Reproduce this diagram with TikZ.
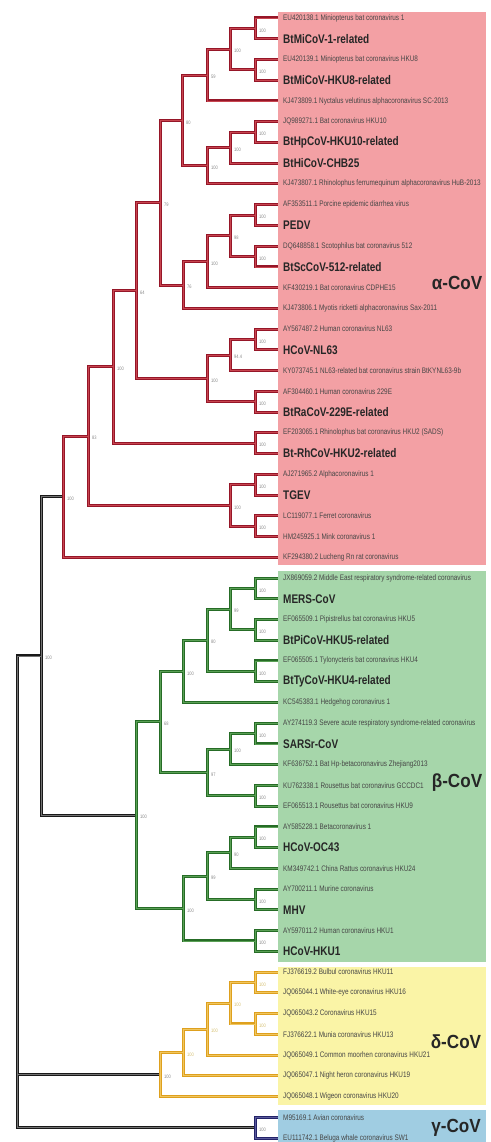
\documentclass[tikz,border=0pt]{standalone}
\usepackage{fontspec}
\usepackage{xcolor}
\usepackage{tikz}
\usetikzlibrary{positioning}
\newfontfamily\treefont{Liberation Sans}[FakeStretch=0.8]
\newfontfamily\cladefont{Liberation Sans}[FakeStretch=0.9]
\definecolor{alphaline}{RGB}{150,22,40}
\definecolor{alphainner}{RGB}{200,70,80}
\definecolor{alphafill}{RGB}{243,160,164}
\definecolor{betaline}{RGB}{38,108,38}
\definecolor{betainner}{RGB}{90,160,85}
\definecolor{betafill}{RGB}{166,214,170}
\definecolor{deltaline}{RGB}{222,160,30}
\definecolor{deltainner}{RGB}{240,198,95}
\definecolor{deltafill}{RGB}{250,244,166}
\definecolor{gammaline}{RGB}{35,35,105}
\definecolor{gammainner}{RGB}{90,90,155}
\definecolor{gammafill}{RGB}{160,205,226}
\definecolor{leafgray}{RGB}{70,70,70}
\definecolor{bootgray}{RGB}{135,135,135}
\definecolor{boottan}{RGB}{212,190,110}

\begin{document}
\begin{tikzpicture}[
    x=1pt, y=-1pt,
    leaf/.style={anchor=west, inner xsep=5pt, inner ysep=0.5pt, text=leafgray, font=\treefont\fontsize{8}{9}\selectfont},
    strain/.style={leaf, text=black!85, font=\treefont\bfseries\fontsize{12.5}{14}\selectfont},
    boot/.style={anchor=west, inner sep=0pt, xshift=4pt, yshift=-2pt, text=bootgray, font=\treefont\fontsize{5}{5}\selectfont},
    dboot/.style={boot, text=boottan},
    clade/.style={text=black!85, font=\cladefont\bfseries\fontsize{19}{21}\selectfont},
    alphaedge/.style={draw=alphaline, double=alphainner, double distance=0.8pt, line width=1.1pt},
    betaedge/.style={draw=betaline, double=betainner, double distance=0.8pt, line width=1.1pt},
    deltaedge/.style={draw=deltaline, double=deltainner, double distance=0.8pt, line width=1.1pt},
    gammaedge/.style={draw=gammaline, double=gammainner, double distance=0.8pt, line width=1.1pt},
    rootedge/.style={draw=black!90, double=black!55, double distance=0.8pt, line width=1.1pt}
]
    \useasboundingbox (0,0) rectangle (490,1142);

    % Clade boxes
    \fill[alphafill] (278,12.5) rectangle (486,564.5);
    \fill[betafill] (278,571) rectangle (486,962);
    \fill[deltafill] (278,966.5) rectangle (486,1105);
    \fill[gammafill] (278,1110) rectangle (486,1142);

    % Alpha leaves
    \node[leaf] (EU420138) at (278,18.0) {EU420138.1 Miniopterus bat coronavirus 1};
    \node[strain] (BtMiCoV1) at (278,38.7) {BtMiCoV-1-related};
    \node[leaf] (EU420139) at (278,59.5) {EU420139.1 Miniopterus bat coronavirus HKU8};
    \node[strain] (BtMiCoVHKU8) at (278,80.2) {BtMiCoV-HKU8-related};
    \node[leaf] (KJ473809) at (278,101.0) {KJ473809.1 Nyctalus velutinus alphacoronavirus SC-2013};
    \node[leaf] (JQ989271) at (278,121.7) {JQ989271.1 Bat coronavirus HKU10};
    \node[strain] (BtHpCoV) at (278,142.4) {BtHpCoV-HKU10-related};
    \node[strain] (BtHiCoV) at (278,163.2) {BtHiCoV-CHB25};
    \node[leaf] (KJ473807) at (278,183.9) {KJ473807.1 Rhinolophus ferrumequinum alphacoronavirus HuB-2013};
    \node[leaf] (AF353511) at (278,204.7) {AF353511.1 Porcine epidemic diarrhea virus};
    \node[strain] (PEDV) at (278,225.4) {PEDV};
    \node[leaf] (DQ648858) at (278,246.1) {DQ648858.1 Scotophilus bat coronavirus 512};
    \node[strain] (BtScCoV) at (278,266.9) {BtScCoV-512-related};
    \node[leaf] (KF430219) at (278,287.6) {KF430219.1 Bat coronavirus CDPHE15};
    \node[leaf] (KJ473806) at (278,308.4) {KJ473806.1 Myotis ricketti alphacoronavirus Sax-2011};
    \node[leaf] (AY567487) at (278,329.1) {AY567487.2 Human coronavirus NL63};
    \node[strain] (HCoVNL63) at (278,349.8) {HCoV-NL63};
    \node[leaf] (KY073745) at (278,370.6) {KY073745.1 NL63-related bat coronavirus strain BtKYNL63-9b};
    \node[leaf] (AF304460) at (278,391.3) {AF304460.1 Human coronavirus 229E};
    \node[strain] (BtRaCoV) at (278,412.1) {BtRaCoV-229E-related};
    \node[leaf] (EF203065) at (278,432.8) {EF203065.1 Rhinolophus bat coronavirus HKU2 (SADS)};
    \node[strain] (BtRhCoV) at (278,453.5) {Bt-RhCoV-HKU2-related};
    \node[leaf] (AJ271965) at (278,474.3) {AJ271965.2 Alphacoronavirus 1};
    \node[strain] (TGEV) at (278,495.0) {TGEV};
    \node[leaf] (LC119077) at (278,515.8) {LC119077.1 Ferret coronavirus};
    \node[leaf] (HM245925) at (278,536.5) {HM245925.1 Mink coronavirus 1};
    \node[leaf] (KF294380) at (278,557.2) {KF294380.2 Lucheng Rn rat coronavirus};

    % Beta leaves
    \node[leaf] (JX869059) at (278,578.0) {JX869059.2 Middle East respiratory syndrome-related coronavirus};
    \node[strain] (MERS) at (278,598.7) {MERS-CoV};
    \node[leaf] (EF065509) at (278,619.5) {EF065509.1 Pipistrellus bat coronavirus HKU5};
    \node[strain] (BtPiCoV) at (278,640.2) {BtPiCoV-HKU5-related};
    \node[leaf] (EF065505) at (278,660.9) {EF065505.1 Tylonycteris bat coronavirus HKU4};
    \node[strain] (BtTyCoV) at (278,681.7) {BtTyCoV-HKU4-related};
    \node[leaf] (KC545383) at (278,702.4) {KC545383.1 Hedgehog coronavirus 1};
    \node[leaf] (AY274119) at (278,723.2) {AY274119.3 Severe acute respiratory syndrome-related coronavirus};
    \node[strain] (SARSr) at (278,743.9) {SARSr-CoV};
    \node[leaf] (KF636752) at (278,764.6) {KF636752.1 Bat Hp-betacoronavirus Zhejiang2013};
    \node[leaf] (KU762338) at (278,785.4) {KU762338.1 Rousettus bat coronavirus GCCDC1};
    \node[leaf] (EF065513) at (278,806.1) {EF065513.1 Rousettus bat coronavirus HKU9};
    \node[leaf] (AY585228) at (278,826.9) {AY585228.1 Betacoronavirus 1};
    \node[strain] (HCoVOC43) at (278,847.6) {HCoV-OC43};
    \node[leaf] (KM349742) at (278,868.3) {KM349742.1 China Rattus coronavirus HKU24};
    \node[leaf] (AY700211) at (278,889.1) {AY700211.1 Murine coronavirus};
    \node[strain] (MHV) at (278,909.8) {MHV};
    \node[leaf] (AY597011) at (278,930.6) {AY597011.2 Human coronavirus HKU1};
    \node[strain] (HCoVHKU1) at (278,951.3) {HCoV-HKU1};

    % Delta leaves
    \node[leaf] (FJ376619) at (278,972.0) {FJ376619.2 Bulbul coronavirus HKU11};
    \node[leaf] (JQ065044) at (278,992.8) {JQ065044.1 White-eye coronavirus HKU16};
    \node[leaf] (JQ065043) at (278,1013.5) {JQ065043.2 Coronavirus HKU15};
    \node[leaf] (FJ376622) at (278,1034.3) {FJ376622.1 Munia coronavirus HKU13};
    \node[leaf] (JQ065049) at (278,1055.0) {JQ065049.1 Common moorhen coronavirus HKU21};
    \node[leaf] (JQ065047) at (278,1075.7) {JQ065047.1 Night heron coronavirus HKU19};
    \node[leaf] (JQ065048) at (278,1096.5) {JQ065048.1 Wigeon coronavirus HKU20};

    % Gamma leaves
    \node[leaf] (M95169) at (278,1117.2) {M95169.1 Avian coronavirus};
    \node[leaf] (EU111742) at (278,1138.0) {EU111742.1 Beluga whale coronavirus SW1};

    % Alpha inner nodes
    \coordinate (a1) at (255,28.35);
    \coordinate (a2) at (255,69.85);
    \coordinate (a3) at (230,49.1);
    \coordinate (a4) at (207,75.05);
    \coordinate (b1) at (255,132.05);
    \coordinate (b2) at (230,147.6);
    \coordinate (b3) at (207,165.75);
    \coordinate (a5) at (182,120.4);
    \coordinate (c1) at (255,215.05);
    \coordinate (c2) at (255,256.5);
    \coordinate (c3) at (230,235.8);
    \coordinate (c4) at (207,261.7);
    \coordinate (c5) at (183,285.05);
    \coordinate (a6) at (160,202.7);
    \coordinate (d1) at (255,339.45);
    \coordinate (d2) at (230,355.0);
    \coordinate (d4) at (255,401.7);
    \coordinate (d3) at (207,378.35);
    \coordinate (a7) at (136,290.5);
    \coordinate (e1) at (255,443.15);
    \coordinate (a8) at (113,366.8);
    \coordinate (f1) at (255,484.65);
    \coordinate (f2) at (255,526.15);
    \coordinate (f3) at (230,505.4);
    \coordinate (a9) at (88,436.1);
    \coordinate (aroot) at (63,496.65);

    % Beta inner nodes
    \coordinate (g1) at (255,588.35);
    \coordinate (g2) at (255,629.85);
    \coordinate (g3) at (230,609.1);
    \coordinate (g4) at (255,671.3);
    \coordinate (g5) at (207,640.2);
    \coordinate (g6) at (183,671.3);
    \coordinate (h1) at (255,733.55);
    \coordinate (h2) at (230,749.1);
    \coordinate (h3) at (255,795.75);
    \coordinate (h4) at (207,772.4);
    \coordinate (g7) at (160,721.85);
    \coordinate (i1) at (255,837.25);
    \coordinate (i2) at (230,852.8);
    \coordinate (i3) at (255,899.45);
    \coordinate (i4) at (207,876.1);
    \coordinate (i5) at (255,940.95);
    \coordinate (i6) at (183,908.5);
    \coordinate (broot) at (136,815.2);

    % Delta and gamma inner nodes
    \coordinate (j1) at (255,982.4);
    \coordinate (j2) at (255,1023.9);
    \coordinate (j3) at (230,1003.15);
    \coordinate (j4) at (207,1029.1);
    \coordinate (j5) at (183,1052.4);
    \coordinate (droot) at (160,1074.45);
    \coordinate (groot) at (255,1127.6);

    % Backbone
    \coordinate (ab) at (41,655.9);
    \coordinate (root) at (17,891.75);

    % Branches
    \draw[rootedge] (root) |- (ab) (root) |- (droot) (root) |- (groot)
        (ab) |- (aroot) (ab) |- (broot);
    \draw[alphaedge] (a1) |- (EU420138) (a1) |- (BtMiCoV1)
        (a2) |- (EU420139) (a2) |- (BtMiCoVHKU8)
        (a3) |- (a1) (a3) |- (a2)
        (a4) |- (a3) (a4) |- (KJ473809)
        (b1) |- (JQ989271) (b1) |- (BtHpCoV)
        (b2) |- (b1) (b2) |- (BtHiCoV)
        (b3) |- (b2) (b3) |- (KJ473807)
        (a5) |- (a4) (a5) |- (b3)
        (c1) |- (AF353511) (c1) |- (PEDV)
        (c2) |- (DQ648858) (c2) |- (BtScCoV)
        (c3) |- (c1) (c3) |- (c2)
        (c4) |- (c3) (c4) |- (KF430219)
        (c5) |- (c4) (c5) |- (KJ473806)
        (a6) |- (a5) (a6) |- (c5)
        (d1) |- (AY567487) (d1) |- (HCoVNL63)
        (d2) |- (d1) (d2) |- (KY073745)
        (d4) |- (AF304460) (d4) |- (BtRaCoV)
        (d3) |- (d2) (d3) |- (d4)
        (a7) |- (a6) (a7) |- (d3)
        (e1) |- (EF203065) (e1) |- (BtRhCoV)
        (a8) |- (a7) (a8) |- (e1)
        (f1) |- (AJ271965) (f1) |- (TGEV)
        (f2) |- (LC119077) (f2) |- (HM245925)
        (f3) |- (f1) (f3) |- (f2)
        (a9) |- (a8) (a9) |- (f3)
        (aroot) |- (a9) (aroot) |- (KF294380);
    \draw[betaedge] (g1) |- (JX869059) (g1) |- (MERS)
        (g2) |- (EF065509) (g2) |- (BtPiCoV)
        (g3) |- (g1) (g3) |- (g2)
        (g4) |- (EF065505) (g4) |- (BtTyCoV)
        (g5) |- (g3) (g5) |- (g4)
        (g6) |- (g5) (g6) |- (KC545383)
        (h1) |- (AY274119) (h1) |- (SARSr)
        (h2) |- (h1) (h2) |- (KF636752)
        (h3) |- (KU762338) (h3) |- (EF065513)
        (h4) |- (h2) (h4) |- (h3)
        (g7) |- (g6) (g7) |- (h4)
        (i1) |- (AY585228) (i1) |- (HCoVOC43)
        (i2) |- (i1) (i2) |- (KM349742)
        (i3) |- (AY700211) (i3) |- (MHV)
        (i4) |- (i2) (i4) |- (i3)
        (i5) |- (AY597011) (i5) |- (HCoVHKU1)
        (i6) |- (i4) (i6) |- (i5)
        (broot) |- (g7) (broot) |- (i6);
    \draw[deltaedge] (j1) |- (FJ376619) (j1) |- (JQ065044)
        (j2) |- (JQ065043) (j2) |- (FJ376622)
        (j3) |- (j1) (j3) |- (j2)
        (j4) |- (j3) (j4) |- (JQ065049)
        (j5) |- (j4) (j5) |- (JQ065047)
        (droot) |- (j5) (droot) |- (JQ065048);
    \draw[gammaedge] (groot) |- (M95169) (groot) |- (EU111742);

    % Bootstrap values
    \node[boot] (a1v) at (a1) {100};
    \node[boot] (a2v) at (a2) {100};
    \node[boot] (a3v) at (a3) {100};
    \node[boot] (a4v) at (a4) {59};
    \node[boot] (b1v) at (b1) {100};
    \node[boot] (b2v) at (b2) {100};
    \node[boot] (b3v) at (b3) {100};
    \node[boot] (a5v) at (a5) {80};
    \node[boot] (c1v) at (c1) {100};
    \node[boot] (c2v) at (c2) {100};
    \node[boot] (c3v) at (c3) {98};
    \node[boot] (c4v) at (c4) {100};
    \node[boot] (c5v) at (c5) {76};
    \node[boot] (a6v) at (a6) {79};
    \node[boot] (d1v) at (d1) {100};
    \node[boot] (d2v) at (d2) {94.4};
    \node[boot] (d4v) at (d4) {100};
    \node[boot] (d3v) at (d3) {100};
    \node[boot] (a7v) at (a7) {64};
    \node[boot] (e1v) at (e1) {100};
    \node[boot] (a8v) at (a8) {100};
    \node[boot] (f1v) at (f1) {100};
    \node[boot] (f2v) at (f2) {100};
    \node[boot] (f3v) at (f3) {100};
    \node[boot] (a9v) at (a9) {83};
    \node[boot] (arootv) at (aroot) {100};
    \node[boot] (g1v) at (g1) {100};
    \node[boot] (g2v) at (g2) {100};
    \node[boot] (g3v) at (g3) {99};
    \node[boot] (g4v) at (g4) {100};
    \node[boot] (g5v) at (g5) {80};
    \node[boot] (g6v) at (g6) {100};
    \node[boot] (h1v) at (h1) {100};
    \node[boot] (h2v) at (h2) {100};
    \node[boot] (h3v) at (h3) {100};
    \node[boot] (h4v) at (h4) {97};
    \node[boot] (g7v) at (g7) {68};
    \node[boot] (i1v) at (i1) {100};
    \node[boot] (i2v) at (i2) {90};
    \node[boot] (i3v) at (i3) {100};
    \node[boot] (i4v) at (i4) {99};
    \node[boot] (i5v) at (i5) {100};
    \node[boot] (i6v) at (i6) {100};
    \node[boot] (brootv) at (broot) {100};
    \node[boot] (abv) at (ab) {100};
    \node[dboot] (j1v) at (j1) {100};
    \node[dboot] (j2v) at (j2) {100};
    \node[dboot] (j3v) at (j3) {100};
    \node[dboot] (j4v) at (j4) {100};
    \node[dboot] (j5v) at (j5) {100};
    \node[boot] (drootv) at (droot) {100};
    \node[boot] (grootv) at (groot) {100};

    % Clade names
    \node[clade] (alphaname) at (457,283) {α-CoV};
    \node[clade] (betaname) at (457,783) {β-CoV};
    \node[clade] (deltaname) at (456,1042) {δ-CoV};
    \node[clade] (gammaname) at (456,1128) {γ-CoV};
\end{tikzpicture}
\end{document}
